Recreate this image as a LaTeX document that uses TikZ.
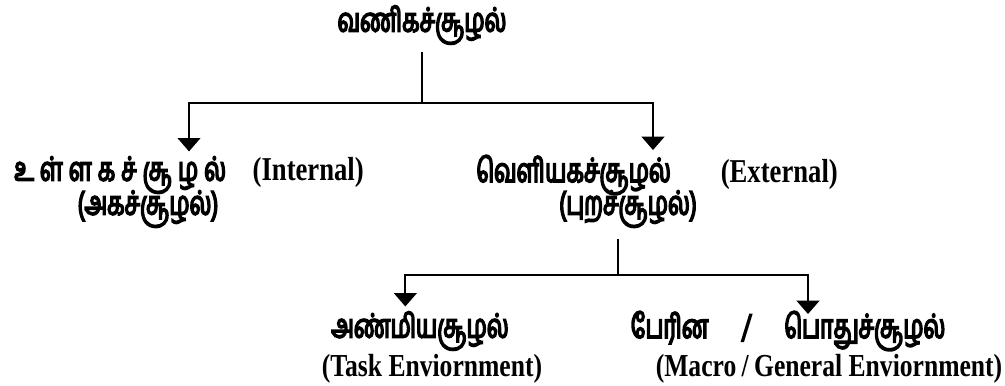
\documentclass[tikz,border=0pt]{standalone}
\usepackage{fontspec}
\setmainfont{Liberation Serif}
\newfontfamily\tamilfont[Script=Tamil,FakeStretch=0.68,FakeBold=4.5]{Hind Madurai}
\newfontfamily\engfont[FakeStretch=0.8]{Liberation Serif}
\usetikzlibrary{arrows.meta}
\newcommand\tagap{\hspace{4.5pt}}

\begin{document}
\begin{tikzpicture}[x=0.75pt,y=-0.75pt,line width=1.5pt,
    ta/.style={font=\tamilfont\fontsize{25}{29}\selectfont,inner sep=0pt},
    en/.style={font=\engfont\bfseries\fontsize{24}{28}\selectfont,inner sep=0pt},
    arr/.style={-{Triangle[width=17pt,length=10pt]}}]
    \useasboundingbox (0,0) rectangle (1005,385);

    \node[ta](root)at(422,25){வணிகச்சூழல்};
    \node[ta](internal)at(189,175){உ\tagap ள்\tagap ள\tagap க\tagap ச்\tagap சூ\tagap ழ\tagap ல்\hspace{0.8em}{\engfont\bfseries (Internal)}};
    \node[ta](internalta)at(148,209){(அகச்சூழல்)};
    \node[ta](external)at(657,175){வெளியகச்சூழல்\hspace{1.5em}{\engfont\bfseries (External)}};
    \node[ta](externalta)at(628,209){(புறச்சூழல்)};

    \node[ta](task)at(420,331){அண்மியசூழல்};
    \node[en](tasken)at(432,369){(Task Enviornment)};
    \node[ta](macro)at(788,331){பேரின\hspace{1em}/\hspace{1em}பொதுச்சூழல்};
    \node[en](macroen)at(829,369){(Macro\,/\,General Enviornment)};

    \coordinate(top)at(422,103);
    \coordinate(low)at(618,275);

    \draw([yshift=-5pt]root.south)--(top);
    \draw[arr](top)-|([yshift=3pt]internal.north);
    \draw[arr](top)-|([xshift=-3pt,yshift=3pt]external.north);

    \draw([yshift=-8pt]externalta.south-|low)--(low);
    \draw[arr](low)-|([xshift=-11pt,yshift=3pt]task.north);
    \draw[arr](low)-|([xshift=15pt,yshift=-3pt]macro.north);
\end{tikzpicture}
\end{document}
